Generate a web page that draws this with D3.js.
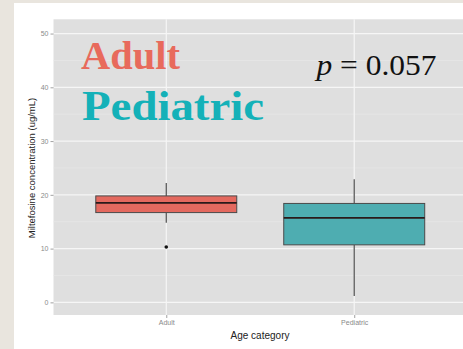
<!DOCTYPE html>
<html>
<head>
<meta charset="utf-8">
<script src="https://cdn.jsdelivr.net/npm/d3@7/dist/d3.min.js"></script>
<style>
  html, body { margin: 0; padding: 0; background: #e9e5de; }
  svg { display: block; }
</style>
</head>
<body>
<svg id="chart" width="463" height="349"></svg>
<script>
// Age groups and their box-plot summaries (ug/mL)
const categories = ["Adult", "Pediatric"];
const whiskerLow  = [14.8, 1.2];
const q1          = [16.7, 10.7];
const medians     = [18.5, 15.7];
const q3          = [19.8, 18.4];
const whiskerHigh = [22.2, 22.9];
const outliers    = [[10.3], []];
const yTicks      = [0, 10, 20, 30, 40, 50];
const pLabel      = "0.057";

const fills = ["#e4695f", "#4eadb1"];
const textColors = ["#e86a5c", "#14b1b8"];

const svg = d3.select("#chart");

// white card over the beige page
svg.append("rect").attr("x", 14).attr("y", 3).attr("width", 449).attr("height", 346).attr("fill", "#ffffff");

const panel = { left: 53.5, top: 19.3, right: 467, bottom: 315 };

const y = d3.scaleLinear().domain([-2.35, 52.65]).range([panel.bottom, panel.top]);
// discrete positions with 0.6 step of expansion on each side
const x = d3.scalePoint().domain(categories).range([panel.left, panel.right]).padding(0.6);
const cx = d => x(d);
const boxW = 0.75 * x.step();

const g = svg.append("g");
g.append("rect")
  .attr("x", panel.left).attr("y", panel.top)
  .attr("width", panel.right - panel.left).attr("height", panel.bottom - panel.top)
  .attr("fill", "#dfdfdf");

// minor grid
const minor = d3.range(-5, 56, 10).filter(v => y(v) > panel.top && y(v) < panel.bottom);
g.selectAll(".minor").data(minor).join("line")
  .attr("x1", panel.left).attr("x2", panel.right)
  .attr("y1", d => y(d)).attr("y2", d => y(d))
  .attr("stroke", "#e9e9e9").attr("stroke-width", 0.6);

// major grid
g.selectAll(".major").data(yTicks).join("line")
  .attr("x1", panel.left).attr("x2", panel.right)
  .attr("y1", d => y(d)).attr("y2", d => y(d))
  .attr("stroke", "#f6f6f6").attr("stroke-width", 1.2);
g.selectAll(".vmajor").data(categories).join("line")
  .attr("x1", d => cx(d)).attr("x2", d => cx(d))
  .attr("y1", panel.top).attr("y2", panel.bottom)
  .attr("stroke", "#f6f6f6").attr("stroke-width", 1.2);

// y axis
const yAxis = d3.axisLeft(y).tickValues(yTicks).tickSize(3).tickPadding(2);
const ya = svg.append("g").attr("transform", `translate(${panel.left},0)`).call(yAxis);
ya.select(".domain").remove();
ya.selectAll(".tick line").attr("stroke", "#8a8a8a").attr("stroke-width", 0.8);
ya.selectAll(".tick text").attr("fill", "#8a8a8a").style("font-family", "Liberation Sans, Arial, sans-serif").style("font-size", "7px");

// x axis
const xAxis = d3.axisBottom(x).tickSize(3).tickPadding(2);
const xa = svg.append("g").attr("transform", `translate(0,${panel.bottom})`).call(xAxis);
xa.select(".domain").remove();
xa.selectAll(".tick line").attr("stroke", "#8a8a8a").attr("stroke-width", 0.8);
xa.selectAll(".tick text").attr("fill", "#8a8a8a").style("font-family", "Liberation Sans, Arial, sans-serif").style("font-size", "7px");

// axis titles
svg.append("text").attr("x", 260).attr("y", 339).attr("text-anchor", "middle")
  .style("font-family", "Liberation Sans, Arial, sans-serif").style("font-size", "10px").attr("fill", "#222")
  .text("Age category");
svg.append("text").attr("transform", "translate(35,168) rotate(-90)").attr("text-anchor", "middle")
  .style("font-family", "Liberation Sans, Arial, sans-serif").style("font-size", "9.5px").attr("fill", "#222")
  .text("Miltefosine concentration (ug/mL)");

// boxes
const boxes = g.selectAll(".box").data(categories).join("g");
boxes.append("line")
  .attr("x1", d => cx(d)).attr("x2", d => cx(d))
  .attr("y1", (d, i) => y(whiskerHigh[i])).attr("y2", (d, i) => y(q3[i]))
  .attr("stroke", "#5a5a5a").attr("stroke-width", 1.3);
boxes.append("line")
  .attr("x1", d => cx(d)).attr("x2", d => cx(d))
  .attr("y1", (d, i) => y(q1[i])).attr("y2", (d, i) => y(whiskerLow[i]))
  .attr("stroke", "#5a5a5a").attr("stroke-width", 1.3);
boxes.append("rect")
  .attr("x", d => cx(d) - boxW / 2).attr("width", boxW)
  .attr("y", (d, i) => y(q3[i])).attr("height", (d, i) => y(q1[i]) - y(q3[i]))
  .attr("fill", (d, i) => fills[i]).attr("stroke", "#4a4a4a").attr("stroke-width", 1);
boxes.append("line")
  .attr("x1", d => cx(d) - boxW / 2).attr("x2", d => cx(d) + boxW / 2)
  .attr("y1", (d, i) => y(medians[i])).attr("y2", (d, i) => y(medians[i]))
  .attr("stroke", "#2a1a1a").attr("stroke-width", 1.8);
boxes.each(function (d, i) {
  d3.select(this).selectAll("circle").data(outliers[i]).join("circle")
    .attr("cx", cx(d)).attr("cy", v => y(v)).attr("r", 1.8).attr("fill", "#111");
});

// group legend text
svg.append("text").attr("x", 81).attr("y", 68.5)
  .attr("textLength", 99).attr("lengthAdjust", "spacingAndGlyphs")
  .style("font-family", "Liberation Serif, Times New Roman, serif").style("font-weight", "bold").style("font-size", "41px")
  .attr("fill", textColors[0]).text(categories[0]);
svg.append("text").attr("x", 82).attr("y", 119.5)
  .attr("textLength", 182).attr("lengthAdjust", "spacingAndGlyphs")
  .style("font-family", "Liberation Serif, Times New Roman, serif").style("font-weight", "bold").style("font-size", "42px")
  .attr("fill", textColors[1]).text(categories[1]);

// p-value annotation
const pt = svg.append("text").attr("x", 316.5).attr("y", 75)
  .attr("textLength", 120).attr("lengthAdjust", "spacingAndGlyphs")
  .style("font-family", "Liberation Serif, Times New Roman, serif").style("font-size", "29px").attr("fill", "#111");
pt.append("tspan").style("font-style", "italic").text("p");
pt.append("tspan").text(" = " + pLabel);
</script>
</body>
</html>
